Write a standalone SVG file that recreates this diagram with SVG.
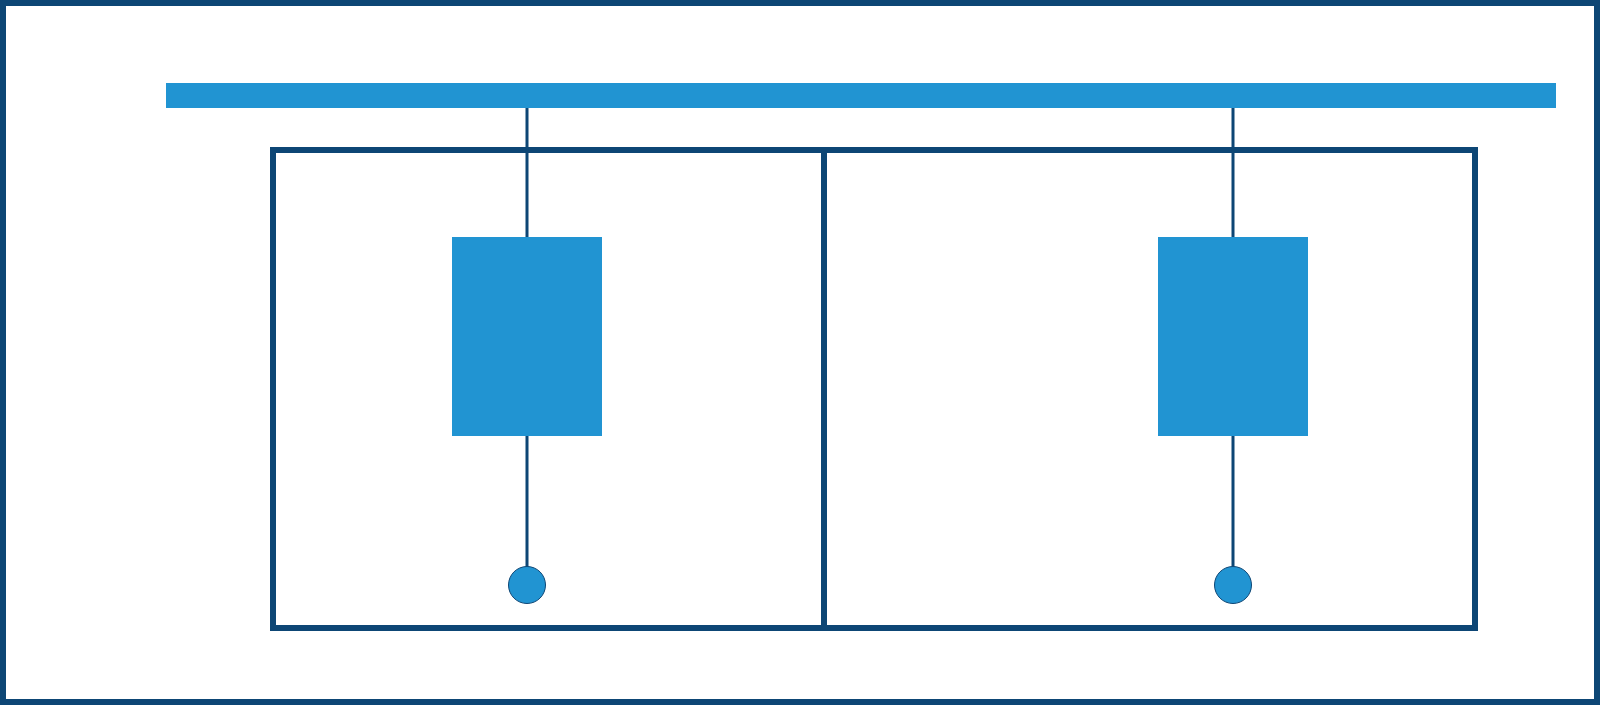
<svg xmlns="http://www.w3.org/2000/svg" width="1600" height="705" viewBox="0 0 1600 705">
<style>
.dark{fill:none;stroke:#0d4675}
.blue{fill:#2194d2}
.wire{stroke:#0d4675;stroke-width:3;fill:none}
.dot{fill:#2194d2;stroke:#0d4675;stroke-width:1}
</style>
<rect width="1600" height="705" fill="#ffffff"/>
<g id="frame"><rect class="dark" x="3" y="3" width="1594" height="699" stroke-width="6"/></g>
<g id="bus"><rect class="blue" x="166" y="83" width="1390" height="25"/></g>
<g id="enclosure">
<rect class="dark" x="273" y="150" width="1202" height="478" stroke-width="6"/>
<line class="dark" x1="824" y1="150" x2="824" y2="628" stroke-width="6"/>
</g>
<g id="connectors">
<line class="wire" x1="527" y1="108" x2="527" y2="567"/>
<line class="wire" x1="1233" y1="108" x2="1233" y2="567"/>
</g>
<g id="unit1"><rect class="blue" x="452" y="237" width="150" height="199"/></g>
<g id="unit2"><rect class="blue" x="1158" y="237" width="150" height="199"/></g>
<g id="term1"><circle class="dot" cx="527" cy="585" r="18.5"/></g>
<g id="term2"><circle class="dot" cx="1233" cy="585" r="18.5"/></g>
</svg>
